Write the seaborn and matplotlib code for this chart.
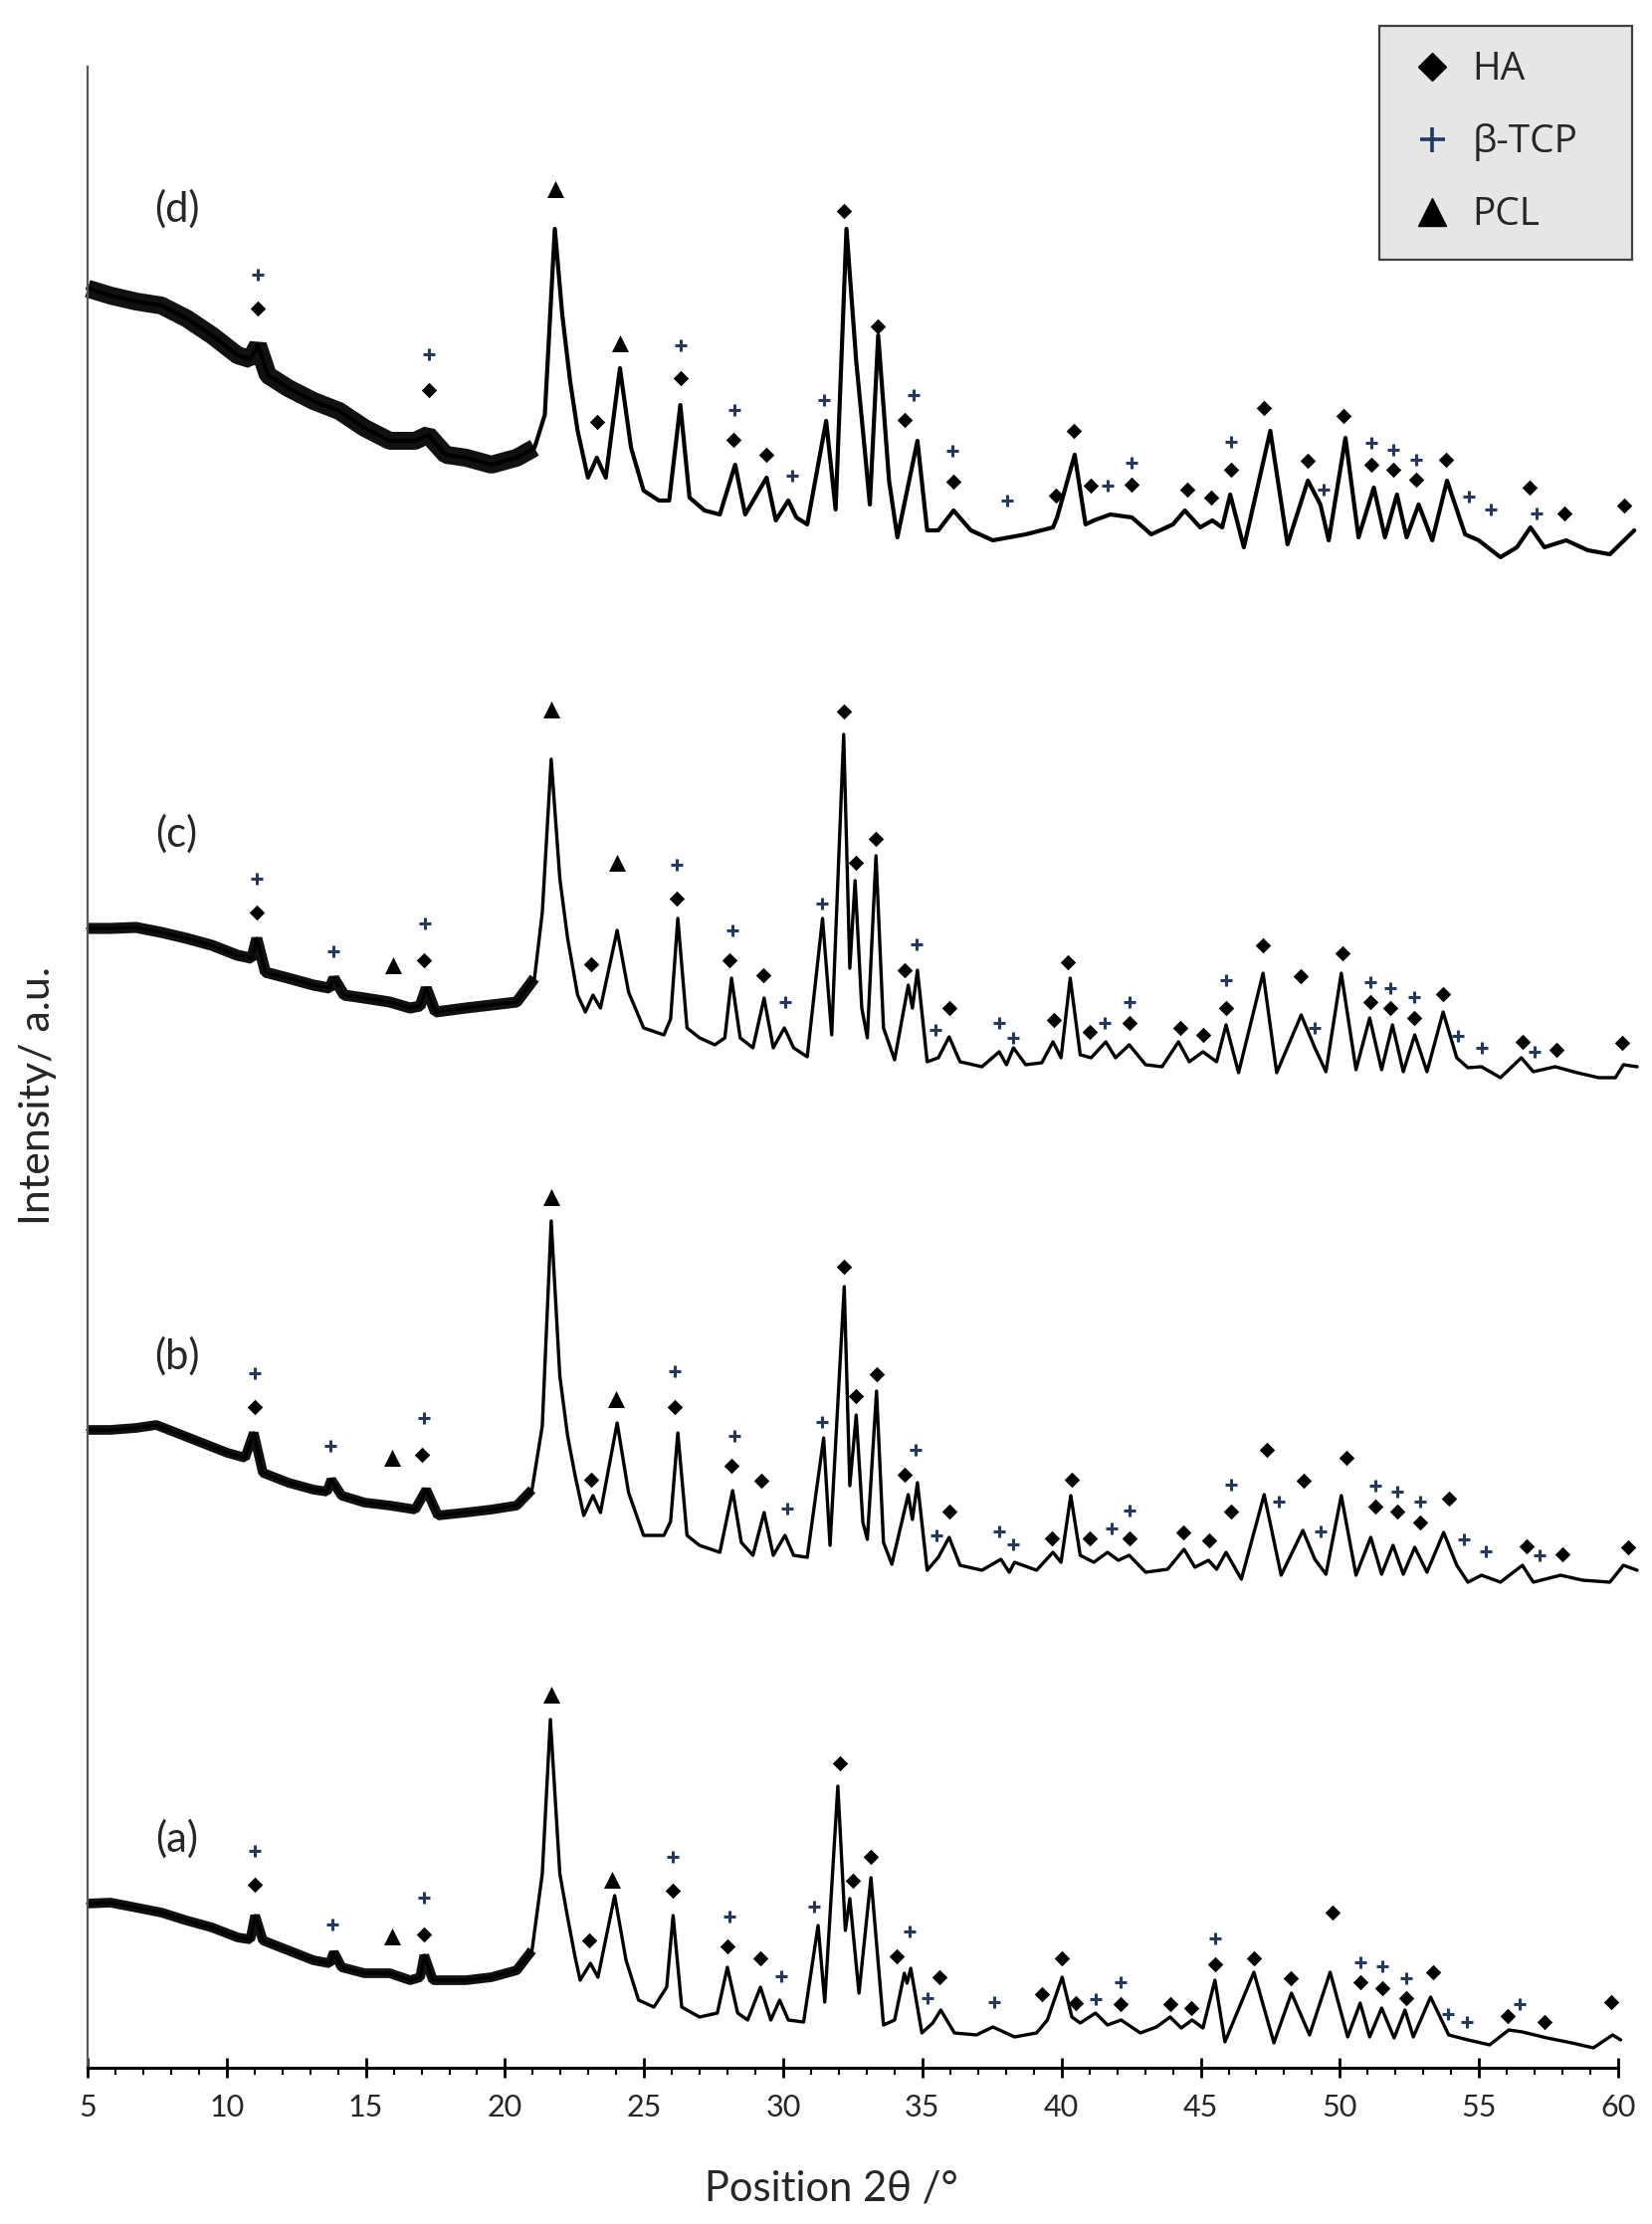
import matplotlib
matplotlib.use("Agg")
import matplotlib.pyplot as plt
from matplotlib.lines import Line2D
from matplotlib.ticker import MultipleLocator
import numpy as np
import seaborn as sns

# ---- XRD traces (2theta in deg, intensity in a.u.) ----
d_2theta = [5.0, 5.82, 6.74, 7.65, 8.56, 9.47, 10.39, 10.85, 11.12, 11.48, 12.21, 13.12, 14.04,
            14.95, 15.86, 16.77, 17.23, 17.87, 18.6, 19.51, 20.42, 21.06, 21.43, 21.79, 22.06,
            22.34, 22.61, 22.98, 23.3, 23.62, 24.13, 24.53, 24.98, 25.53, 25.9, 26.3, 26.63,
            27.17, 27.72, 28.27, 28.63, 29.4, 29.73, 30.18, 30.47, 30.86, 31.54, 31.88, 32.27,
            32.62, 32.92, 33.11, 33.41, 33.8, 34.1, 34.82, 35.17, 35.57, 36.12, 36.74, 37.53,
            38.71, 39.69, 39.84, 40.47, 40.86, 41.16, 41.75, 42.53, 43.22, 44.0, 44.43, 44.98,
            45.42, 45.77, 46.06, 46.55, 47.5, 48.12, 48.85, 49.3, 49.6, 50.2, 50.67, 51.22,
            51.62, 52.05, 52.4, 52.83, 53.32, 53.85, 54.5, 54.99, 55.77, 56.36, 56.85, 57.35,
            58.13, 58.91, 59.7, 60.58]
d_int = [1809, 1802, 1796, 1792, 1779, 1762, 1742, 1738, 1752, 1722, 1709, 1696, 1686,
         1669, 1656, 1656, 1662, 1642, 1639, 1632, 1639, 1649, 1682, 1869, 1782,
         1716, 1666, 1619, 1639, 1619, 1729, 1649, 1606, 1596, 1596, 1692, 1599,
         1586, 1582, 1632, 1582, 1619, 1576, 1596, 1579, 1572, 1676, 1587, 1869,
         1736, 1649, 1592, 1762, 1616, 1559, 1656, 1566, 1566, 1586, 1566, 1556,
         1562, 1569, 1579, 1642, 1572, 1576, 1582, 1579, 1562, 1572, 1586, 1569,
         1576, 1569, 1602, 1549, 1666, 1552, 1616, 1592, 1556, 1659, 1559, 1609,
         1559, 1602, 1559, 1592, 1556, 1616, 1562, 1556, 1539, 1549, 1569, 1549,
         1556, 1546, 1542, 1566]

c_2theta = [5.0, 5.82, 6.74, 7.65, 8.56, 9.47, 10.39, 10.9, 11.08, 11.39, 12.21, 13.12, 13.7,
            13.85, 14.22, 14.95, 15.86, 16.59, 16.95, 17.17, 17.5, 18.6, 19.51, 20.42, 21.06,
            21.34, 21.66, 21.97, 22.25, 22.61, 22.89, 23.16, 23.43, 24.03, 24.44, 24.98, 25.71,
            25.95, 26.21, 26.54, 26.99, 27.54, 27.9, 28.14, 28.45, 28.91, 29.31, 29.64, 30.04,
            30.37, 30.86, 31.41, 31.74, 32.17, 32.39, 32.58, 32.82, 33.02, 33.33, 33.6, 34.0,
            34.49, 34.64, 34.82, 35.17, 35.57, 35.96, 36.35, 37.14, 37.76, 38.02, 38.27, 38.71,
            39.29, 39.69, 39.98, 40.31, 40.67, 41.06, 41.59, 41.94, 42.43, 43.02, 43.61, 44.2,
            44.59, 45.08, 45.57, 45.91, 46.36, 47.24, 47.73, 48.61, 49.1, 49.5, 50.05, 50.58,
            51.07, 51.5, 51.89, 52.28, 52.69, 53.13, 53.71, 54.2, 54.6, 55.09, 55.77, 56.52,
            56.95, 57.74, 58.52, 59.3, 59.9, 60.19, 60.68]
c_int = [1166, 1166, 1167, 1162, 1156, 1149, 1139, 1136, 1156, 1122, 1116, 1109, 1106,
         1116, 1099, 1096, 1092, 1086, 1088, 1106, 1082, 1086, 1089, 1092, 1116,
         1182, 1336, 1216, 1156, 1099, 1082, 1099, 1086, 1164, 1102, 1066, 1059,
         1075, 1176, 1066, 1056, 1049, 1056, 1116, 1056, 1046, 1096, 1046, 1066,
         1046, 1037, 1176, 1059, 1361, 1126, 1214, 1086, 1056, 1239, 1066, 1034,
         1109, 1086, 1124, 1032, 1036, 1057, 1032, 1027, 1042, 1029, 1046, 1029,
         1031, 1052, 1036, 1116, 1039, 1036, 1052, 1036, 1049, 1029, 1027, 1052,
         1032, 1042, 1032, 1069, 1021, 1121, 1021, 1079, 1046, 1022, 1121, 1024,
         1076, 1024, 1069, 1022, 1059, 1022, 1082, 1036, 1026, 1027, 1016, 1036,
         1022, 1027, 1021, 1016, 1016, 1029, 1027]

b_2theta = [5.0, 5.82, 6.74, 7.47, 8.2, 9.11, 10.02, 10.66, 10.97, 11.3, 12.21, 13.12, 13.6,
            13.76, 14.13, 14.95, 15.86, 16.77, 17.17, 17.59, 18.6, 19.51, 20.42, 20.97, 21.34,
            21.66, 21.97, 22.25, 22.52, 22.83, 23.16, 23.43, 24.03, 24.44, 24.98, 25.71, 25.95,
            26.21, 26.54, 26.99, 27.72, 28.18, 28.49, 28.91, 29.31, 29.64, 30.06, 30.37, 30.86,
            31.45, 31.68, 32.19, 32.39, 32.62, 32.86, 33.02, 33.35, 33.6, 33.9, 34.49, 34.64,
            34.82, 35.17, 35.57, 35.96, 36.35, 37.14, 37.82, 38.12, 38.31, 39.1, 39.69, 39.98,
            40.33, 40.67, 41.16, 41.65, 42.04, 42.43, 43.02, 43.81, 44.4, 44.79, 45.28, 45.57,
            45.91, 46.46, 47.28, 47.89, 48.67, 49.1, 49.5, 50.05, 50.58, 51.11, 51.5, 51.91,
            52.28, 52.69, 53.13, 53.73, 54.2, 54.6, 55.09, 55.77, 56.56, 56.95, 57.93, 58.72,
            59.7, 60.19, 60.68]
b_int = [662, 662, 664, 667, 659, 649, 639, 634, 659, 619, 609, 602, 600,
         612, 596, 589, 586, 582, 602, 576, 579, 582, 586, 602, 666,
         872, 716, 656, 616, 576, 596, 579, 669, 599, 556, 556, 570,
         659, 556, 546, 539, 601, 549, 536, 579, 536, 556, 536, 534,
         654, 546, 806, 606, 677, 569, 552, 701, 549, 527, 597, 572,
         609, 521, 534, 554, 526, 521, 532, 519, 529, 521, 539, 529,
         596, 536, 529, 539, 531, 536, 519, 522, 542, 524, 531, 522,
         539, 512, 597, 516, 561, 532, 517, 596, 516, 554, 517, 546,
         517, 544, 519, 559, 526, 509, 516, 509, 526, 509, 516, 511,
         509, 526, 521]

a_2theta = [5.0, 5.82, 6.74, 7.65, 8.56, 9.47, 10.39, 10.85, 11.02, 11.3, 12.21, 13.12, 13.7,
            13.85, 14.13, 14.95, 15.86, 16.59, 16.95, 17.1, 17.41, 18.6, 19.51, 20.42, 20.97,
            21.34, 21.63, 21.97, 22.25, 22.52, 22.7, 23.07, 23.34, 23.94, 24.35, 24.8, 25.35,
            25.81, 26.04, 26.35, 26.99, 27.63, 27.99, 28.36, 28.72, 29.18, 29.55, 29.87, 30.18,
            30.73, 31.25, 31.49, 31.96, 32.23, 32.39, 32.72, 33.15, 33.6, 34.0, 34.35, 34.45,
            34.58, 34.98, 35.37, 35.66, 36.15, 36.94, 37.53, 38.31, 39.1, 39.49, 40.02, 40.37,
            40.67, 41.22, 41.65, 42.14, 42.83, 43.41, 43.9, 44.3, 44.69, 45.08, 45.51, 45.87,
            46.91, 47.63, 48.26, 48.91, 49.65, 50.28, 50.73, 51.07, 51.5, 51.95, 52.34, 52.64,
            53.26, 53.91, 54.6, 55.38, 56.07, 56.56, 57.44, 58.33, 59.11, 59.8, 60.09]
a_int = [186, 187, 182, 177, 169, 162, 152, 150, 174, 149, 139, 129, 126,
         137, 122, 116, 116, 109, 112, 134, 109, 109, 112, 119, 139,
         216, 371, 216, 172, 132, 109, 126, 112, 194, 129, 89, 82,
         102, 174, 82, 72, 76, 122, 76, 69, 102, 69, 89, 69,
         67, 164, 87, 304, 159, 191, 96, 212, 64, 69, 116, 106,
         121, 56, 66, 79, 56, 54, 62, 52, 56, 69, 112, 72,
         66, 76, 64, 69, 56, 62, 72, 61, 69, 61, 109, 47,
         117, 46, 96, 54, 117, 52, 86, 52, 81, 51, 79, 52,
         92, 54, 49, 44, 59, 57, 51, 46, 41, 54, 49]

# ---- phase markers (position, height) ----
d_ha_x = [11.12, 17.25, 23.3, 26.3, 28.2, 29.4, 32.19, 33.41, 34.35, 36.1, 39.79, 40.43, 41.06,
          42.51, 44.51, 45.38, 46.08, 47.26, 48.83, 50.14, 51.14, 51.91, 52.75, 53.81, 56.8,
          58.07, 60.23]
d_ha_y = [1789, 1707, 1675, 1719, 1657, 1642, 1887, 1771, 1677, 1615, 1601, 1666, 1611,
          1612, 1607, 1599, 1627, 1689, 1636, 1681, 1632, 1627, 1617, 1637, 1609,
          1583, 1591]
d_tcp_x = [11.12, 17.28, 26.3, 28.23, 30.31, 31.46, 34.68, 36.06, 38.06, 41.65, 42.51, 46.08,
           49.4, 51.14, 51.91, 52.75, 54.64, 55.44, 57.05]
d_tcp_y = [1823, 1743, 1752, 1687, 1621, 1697, 1702, 1646, 1596, 1611, 1634, 1655,
           1607, 1654, 1647, 1637, 1600, 1587, 1583]
d_pcl_x = [21.79, 24.13]
d_pcl_y = [1909, 1754]

c_ha_x = [11.08, 17.08, 23.09, 26.17, 28.05, 29.27, 32.18, 32.62, 33.31, 34.35, 35.96, 39.73,
          40.22, 41.0, 42.43, 44.26, 45.08, 45.91, 47.24, 48.61, 50.09, 51.1, 51.81, 52.67,
          53.71, 56.56, 57.78, 60.15]
c_ha_y = [1182, 1134, 1130, 1196, 1134, 1119, 1384, 1232, 1256, 1124, 1086, 1074,
          1132, 1062, 1071, 1066, 1059, 1086, 1149, 1118, 1141, 1092, 1086, 1076,
          1100, 1052, 1044, 1051]
c_tcp_x = [11.08, 13.82, 17.14, 26.17, 28.18, 30.06, 31.4, 34.78, 35.47, 37.76, 38.27, 41.55,
           42.43, 45.91, 49.1, 51.1, 51.81, 52.67, 54.26, 55.09, 57.0]
c_tcp_y = [1216, 1143, 1171, 1230, 1164, 1092, 1191, 1150, 1064, 1071, 1056, 1071,
           1092, 1114, 1066, 1112, 1106, 1097, 1058, 1046, 1042]
c_pcl_x = [15.99, 21.66, 24.02]
c_pcl_y = [1129, 1386, 1232]

b_ha_x = [10.99, 17.01, 23.09, 26.1, 28.14, 29.2, 32.19, 32.62, 33.35, 34.35, 35.96, 39.65,
          40.37, 41.0, 42.43, 44.36, 45.32, 46.08, 47.38, 48.71, 50.24, 51.26, 52.05, 52.89,
          53.91, 56.7, 57.99, 60.34]
b_ha_y = [685, 637, 612, 685, 626, 611, 826, 696, 718, 617, 580, 553,
          612, 553, 553, 559, 551, 580, 642, 611, 634, 585, 580, 569,
          593, 545, 537, 544]
b_tcp_x = [10.99, 13.71, 17.08, 26.1, 28.23, 30.13, 31.4, 34.74, 35.51, 37.76, 38.27, 41.79,
           42.43, 46.08, 47.79, 49.3, 51.26, 52.05, 52.89, 54.46, 55.25, 57.19]
b_tcp_y = [719, 646, 674, 721, 656, 583, 670, 642, 556, 560, 547, 563,
           581, 607, 590, 560, 606, 600, 590, 552, 540, 536]
b_pcl_x = [15.95, 21.66, 23.98]
b_pcl_y = [634, 896, 693]

a_ha_x = [10.99, 17.08, 23.03, 26.04, 27.99, 29.18, 32.05, 32.49, 33.15, 34.09, 35.62, 39.29,
          40.0, 40.51, 42.12, 43.89, 44.67, 45.51, 46.91, 48.24, 49.75, 50.73, 51.52, 52.38,
          53.36, 56.03, 57.35, 59.76]
a_ha_y = [205, 155, 149, 199, 143, 131, 327, 209, 233, 133, 112, 95,
          131, 86, 85, 85, 81, 125, 131, 111, 177, 107, 101, 91,
          117, 73, 67, 87]
a_tcp_x = [10.99, 13.8, 17.08, 26.04, 28.05, 29.91, 31.12, 34.53, 35.17, 37.57, 41.22, 42.12,
           45.51, 50.73, 51.52, 52.38, 53.87, 54.56, 56.46]
a_tcp_y = [239, 165, 192, 233, 173, 113, 183, 158, 91, 87, 90, 107,
           151, 127, 123, 111, 75, 67, 85]
a_pcl_x = [15.95, 21.66, 23.83]
a_pcl_y = [153, 396, 210]

sample_labels = ["(a)", "(b)", "(c)", "(d)"]

NAVY = "#1F3864"

sns.set_theme(style="white")
plt.rcParams["font.family"] = ["Lato", "DejaVu Sans"]

fig = plt.figure(figsize=(16.6, 22.35), dpi=100)
ax = fig.add_axes([88 / 1660, 1 - 2078 / 2235, (1626 - 88) / 1660, (2078 - 67) / 2235])


def draw_pattern(x, y, band_lw, lw=2.4):
    x = np.asarray(x)
    y = np.asarray(y)
    # noisy amorphous region drawn as a heavier band
    low = x <= 21.1
    sns.lineplot(x=x[low], y=y[low], sort=False, estimator=None, color="#111111",
                 linewidth=band_lw, solid_joinstyle="bevel", solid_capstyle="butt",
                 clip_on=False, ax=ax)
    sns.lineplot(x=x, y=y, sort=False, estimator=None, color="black",
                 linewidth=lw, clip_on=False, ax=ax)


def draw_phases(hx, hy, tx, ty, px, py):
    sns.scatterplot(x=hx, y=hy, marker="D", s=62, color="black", linewidth=0,
                    clip_on=False, zorder=5, ax=ax)
    sns.scatterplot(x=tx, y=ty, marker="+", s=80, color=NAVY, linewidth=2.2,
                    clip_on=False, zorder=5, ax=ax)
    sns.scatterplot(x=px, y=py, marker="^", s=150, color="black", linewidth=0,
                    clip_on=False, zorder=5, ax=ax)


draw_pattern(a_2theta, a_int, 7)
draw_pattern(b_2theta, b_int, 7)
draw_pattern(c_2theta, c_int, 8)
draw_pattern(d_2theta, d_int, 13, lw=3.0)

draw_phases(a_ha_x, a_ha_y, a_tcp_x, a_tcp_y, a_pcl_x, a_pcl_y)
draw_phases(b_ha_x, b_ha_y, b_tcp_x, b_tcp_y, b_pcl_x, b_pcl_y)
draw_phases(c_ha_x, c_ha_y, c_tcp_x, c_tcp_y, c_pcl_x, c_pcl_y)
draw_phases(d_ha_x, d_ha_y, d_tcp_x, d_tcp_y, d_pcl_x, d_pcl_y)

# sample labels
for lab, yy in zip(sample_labels, [251, 736, 1261, 1889]):
    ax.text(8.2, yy, lab, fontsize=30, ha="center", va="center")

ax.set_xlim(5, 60)
ax.set_ylim(21, 2032)
ax.set_yticks([])
ax.xaxis.set_major_locator(MultipleLocator(5))
ax.xaxis.set_minor_locator(MultipleLocator(1))
ax.tick_params(axis="x", which="major", direction="inout", length=15, width=2,
               bottom=True, labelsize=22, pad=11, color="black")
ax.tick_params(axis="x", which="minor", direction="out", length=5, width=1.5,
               bottom=True, color="black")

for side in ["top", "right"]:
    ax.spines[side].set_visible(False)
ax.spines["left"].set_color("#595959")
ax.spines["left"].set_linewidth(1.6)
ax.spines["bottom"].set_color("black")
ax.spines["bottom"].set_linewidth(2.2)

ax.set_xlabel("Position 2θ /°", fontsize=30)
ax.set_ylabel("Intensity/ a.u.", fontsize=31)
ax.xaxis.set_label_coords(0.486, -0.051)
ax.yaxis.set_label_coords(-0.02, 0.486)

handles = [
    Line2D([], [], linestyle="none", marker="D", markersize=14, color="black"),
    Line2D([], [], linestyle="none", marker="+", markersize=18, markeredgewidth=2.6, color=NAVY),
    Line2D([], [], linestyle="none", marker="^", markersize=20, color="black"),
]
leg = fig.legend(handles, ["HA", "β-TCP", "PCL"], loc="upper left",
                 bbox_to_anchor=(1386 / 1660, 0.5, (1640 - 1386) / 1660, 0.5 - 26 / 2235),
                 bbox_transform=fig.transFigure, mode="expand", borderaxespad=0,
                 fontsize=28, frameon=True, fancybox=False, framealpha=1,
                 facecolor="#e6e6e6", edgecolor="#404040", borderpad=0.65,
                 labelspacing=0.9, handlelength=1.4, handletextpad=0.35)
leg.get_frame().set_linewidth(1.6)
for t in leg.get_texts():
    t.set_fontfamily(["Open Sans", "DejaVu Sans"])

fig.savefig("out.png", dpi=100)
